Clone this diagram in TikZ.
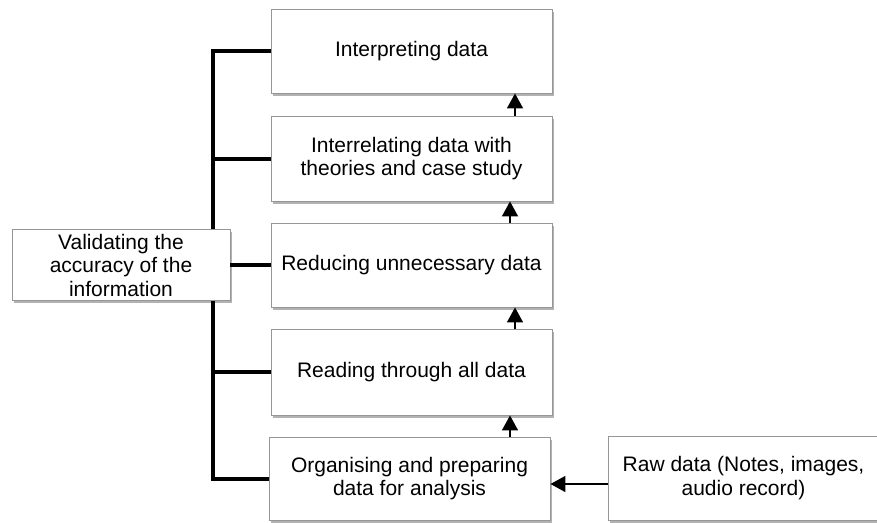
\documentclass[tikz,border=0pt]{standalone}
\usepackage{fontspec}
\setmainfont{Liberation Sans}
\usepackage{tikz}
\usetikzlibrary{arrows.meta,shadows}
\definecolor{boxgray}{RGB}{150,150,150}

\begin{document}
\begin{tikzpicture}[x=1pt,y=-1pt,
    stagebox/.style={draw=boxgray,fill=white,line width=0.9pt,align=center,
      minimum width=281pt,minimum height=84pt,inner sep=0pt,
      font=\fontsize{21}{23.5}\selectfont,
      drop shadow={shadow xshift=1.5pt,shadow yshift=-2.5pt,fill=black,opacity=0.3}},
    trunk/.style={line width=4pt},
    flow/.style={line width=1.6pt,-{Triangle[width=16pt,length=15pt]}}]
  \useasboundingbox (0,0) rectangle (877,522);
  \coordinate (spine) at (213,0);
  \node[stagebox] (interp) at (411.5,51) {Interpreting data};
  \node[stagebox,minimum height=85pt] (relate) at (411.5,158.5)
    {Interrelating data with\\theories and case study};
  \node[stagebox] (reduce) at (411.5,265) {Reducing unnecessary data};
  \node[stagebox,minimum height=86pt] (read) at (411.5,372) {Reading through all data};
  \node[stagebox,minimum height=83pt] (organise) at (409.5,478.5)
    {Organising and preparing\\data for analysis};
  \node[stagebox,minimum width=271pt] (raw) at (743.5,478)
    {Raw data (Notes, images,\\audio record)};
  \draw[trunk] (interp.west) -| (spine |- organise.west) -- (organise.west);
  \foreach \stage in {relate,read}
    \draw[trunk] (\stage.west) -- (spine |- \stage.west);
  \node[stagebox,minimum width=218pt,minimum height=71pt] (valid) at (121,265)
    {Validating the\\accuracy of the\\information};
  \draw[trunk] (valid.east) -- (reduce.west);
  \foreach \lo/\hi/\ax in {relate/interp/515,reduce/relate/510,read/reduce/515,organise/read/510}
    \draw[flow] (\lo.north -| \ax,0) -- (\hi.south -| \ax,0);
  \draw[flow] ([yshift=-6pt]raw.west) -- ([yshift=-6pt]raw.west -| organise.east);
\end{tikzpicture}
\end{document}
